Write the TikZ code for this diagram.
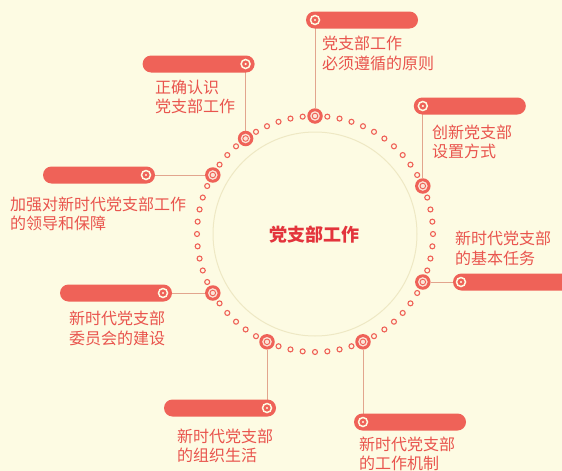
\documentclass[tikz,border=0pt]{standalone}
\usepackage{fontspec}
\setmainfont{Noto Sans CJK SC}
\usetikzlibrary{backgrounds}

\definecolor{bgcream}{HTML}{FDFBE3}
\definecolor{barred}{HTML}{EF6258}
\definecolor{textred}{HTML}{E9544D}
\definecolor{titlered}{HTML}{E3343C}
\definecolor{linkline}{HTML}{E2A58E}
\definecolor{ringpale}{HTML}{EEE8C4}
\definecolor{ringpink}{HTML}{FBE3D6}

\begin{document}
\begin{tikzpicture}[x=1pt,y=-1pt,
	bigdot/.style={circle, fill=barred, minimum size=15.5pt, inner sep=0pt,
		path picture={\fill[ringpink] (path picture bounding box.center) circle (4.8pt);
			\draw[barred, line width=0.9pt] (path picture bounding box.center) circle (2.8pt);}},
	smalldot/.style={draw=barred, fill=bgcream, line width=1.1pt},
	bar/.style={rectangle, rounded corners=8.5pt, fill=barred, minimum height=17pt, minimum width=112pt, inner sep=0pt},
	tdot/.style={circle, draw=bgcream, line width=1.5pt, minimum size=9pt, inner sep=0pt,
		path picture={\fill[bgcream] (path picture bounding box.center) circle (1.2pt);}},
	link/.style={linkline, line width=0.8pt},
	itemtext/.style={text=textred, font=\fontsize{16}{19.5}\selectfont, align=left, anchor=west, inner sep=0pt}]
	\useasboundingbox (0,0) rectangle (562,471);
	
	% ring
	\draw[ringpale, line width=1pt] (315,234) circle (102pt);
	\foreach \a in {0,6,...,354}
		\draw[smalldot] (315,234) ++(-\a:118) circle (2.5pt);
	\node[font=\fontsize{18}{20}\selectfont\bfseries, text=titlered] (title) at (314,235) {党支部工作};
	
	% dots on the ring
	\node[bigdot] (d1) at (315,116) {};
	\node[bigdot] (d2) at (245.6,138.5) {};
	\node[bigdot] (d3) at (212.8,175) {};
	\node[bigdot] (d4) at (212.8,293) {};
	\node[bigdot] (d5) at (267,341.8) {};
	\node[bigdot] (d6) at (363,341.8) {};
	\node[bigdot] (d7) at (422.8,282) {};
	\node[bigdot] (d8) at (422.8,186) {};
	
	% item 1
	\node[bar] (b1) at (362,20) {};
	\node[tdot] (t1) at (315,20) {};
	\node[itemtext] (l1) at (322,53.5) {党支部工作\\必须遵循的原则};
	% item 2
	\node[bar] (b2) at (198.6,64) {};
	\node[tdot] (t2) at (245.6,64) {};
	\node[itemtext] (l2) at (155,97) {正确认识\\党支部工作};
	% item 3
	\node[bar] (b3) at (99,175) {};
	\node[tdot] (t3) at (146,175) {};
	\node[itemtext] (l3) at (10,214) {加强对新时代党支部工作\\的领导和保障};
	% item 4
	\node[bar] (b4) at (469.8,106) {};
	\node[tdot] (t4) at (422.8,106) {};
	\node[itemtext] (l4) at (432,142) {创新党支部\\设置方式};
	% item 5
	\node[bar, minimum width=122pt] (b5) at (514,282) {};
	\node[tdot] (t5) at (461,282) {};
	\node[itemtext] (l5) at (455,248.5) {新时代党支部\\的基本任务};
	% item 6
	\node[bar] (b6) at (116,293) {};
	\node[tdot] (t6) at (163,293) {};
	\node[itemtext] (l6) at (69,328.5) {新时代党支部\\委员会的建设};
	% item 7
	\node[bar] (b7) at (220,408) {};
	\node[tdot] (t7) at (267,408) {};
	\node[itemtext] (l7) at (177,446) {新时代党支部\\的组织生活};
	% item 8
	\node[bar] (b8) at (410,422) {};
	\node[tdot] (t8) at (363,422) {};
	\node[itemtext] (l8) at (359,454) {新时代党支部\\的工作机制};
	
	\begin{scope}[on background layer]
		\fill[bgcream] (0,0) rectangle (562,471);
		\draw[link] (d1) -- (t1);
		\draw[link] (d2) -- (t2);
		\draw[link] (d3) -- (t3);
		\draw[link] (d4) -- (t6);
		\draw[link] (d5) -- (t7);
		\draw[link] (d6) -- (t8);
		\draw[link] (d7) -- (t5);
		\draw[link] (d8) -- (t4);
	\end{scope}
\end{tikzpicture}
\end{document}
